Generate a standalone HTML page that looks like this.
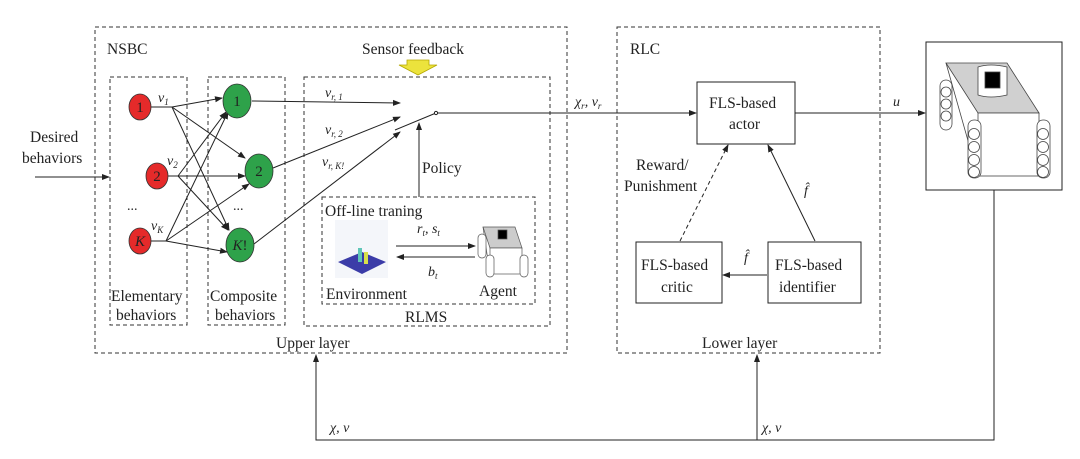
<!DOCTYPE html>
<html><head><style>
html,body{margin:0;padding:0;background:#fff;}
svg text{font-family:"Liberation Serif",serif;fill:#222;}
</style></head><body>
<svg width="1080" height="454" viewBox="0 0 1080 454" xmlns="http://www.w3.org/2000/svg">
<defs>
<marker id="a" markerWidth="8" markerHeight="8" refX="7" refY="4" orient="auto" markerUnits="userSpaceOnUse"><path d="M0,1 L8,4 L0,7 z" fill="#222"/></marker>
</defs>
<g fill="none" stroke="#333" stroke-width="1" stroke-dasharray="4,3">
<rect x="95" y="27" width="472" height="326"/>
<rect x="110" y="77" width="77" height="248"/>
<rect x="208" y="77" width="77" height="248"/>
<rect x="304" y="77" width="246" height="249"/>
<rect x="322" y="197" width="213" height="107"/>
<rect x="617" y="27" width="263" height="326"/>
</g>
<g stroke="#222" stroke-width="1" fill="#fff">
<rect x="697" y="82" width="98" height="62"/>
<rect x="636" y="242" width="86" height="61"/>
<rect x="768" y="242" width="93" height="61"/>
<rect x="926" y="42" width="136" height="148"/>
</g>
<g font-size="15.5">
<text x="107" y="54">NSBC</text>
<text x="362" y="54">Sensor feedback</text>
<text x="630" y="54">RLC</text>
<text x="30" y="142">Desired</text>
<text x="22" y="163">behaviors</text>
<text x="111" y="301">Elementary</text>
<text x="116" y="320">behaviors</text>
<text x="210" y="301">Composite</text>
<text x="215" y="320">behaviors</text>
<text x="405" y="322">RLMS</text>
<text x="276" y="348">Upper layer</text>
<text x="702" y="348">Lower layer</text>
<text x="422" y="173">Policy</text>
<text x="325" y="216">Off-line traning</text>
<text x="326" y="299">Environment</text>
<text x="479" y="296">Agent</text>
<text x="636" y="170">Reward/</text>
<text x="624" y="191">Punishment</text>
<text x="709" y="108">FLS-based</text>
<text x="729" y="129">actor</text>
<text x="641" y="270">FLS-based</text>
<text x="661" y="292">critic</text>
<text x="775" y="270">FLS-based</text>
<text x="779" y="292">identifier</text>
</g>
<g font-size="14" font-style="italic">
<text x="158" y="102">v<tspan font-size="9" dy="3">1</tspan></text>
<text x="167" y="165">v<tspan font-size="9" dy="3">2</tspan></text>
<text x="151" y="230">v<tspan font-size="9" dy="3">K</tspan></text>
<text x="325" y="97">v<tspan font-size="9" dy="3">r, 1</tspan></text>
<text x="325" y="134">v<tspan font-size="9" dy="3">r, 2</tspan></text>
<text x="322" y="166">v<tspan font-size="9" dy="3">r, K!</tspan></text>
<text x="417" y="233">r<tspan font-size="9" dy="3">t</tspan><tspan dy="-3">, s</tspan><tspan font-size="9" dy="3">t</tspan></text>
<text x="428" y="276">b<tspan font-size="9" dy="3">t</tspan></text>
<text x="575" y="106">χ<tspan font-size="9" dy="3">r</tspan><tspan dy="-3">, v</tspan><tspan font-size="9" dy="3">r</tspan></text>
<text x="893" y="106">u</text>
<text x="804" y="195">f̂</text>
<text x="744" y="262">f̂</text>
<text x="330" y="432">χ, v</text>
<text x="762" y="432">χ, v</text>
</g>
<text x="127" y="210" font-size="14">...</text>
<text x="233" y="210" font-size="14">...</text>
<!-- yellow block arrow -->
<path d="M407,60 L429,60 L429,65 L437,65 L418,75 L399,65 L407,65 z" fill="#ece33c" stroke="#b5a800" stroke-width="0.8"/>
<g stroke="#222" stroke-width="1" fill="none">
<line x1="35" y1="177" x2="109" y2="177" marker-end="url(#a)"/>
<line x1="151" y1="107" x2="172" y2="107"/>
<line x1="168" y1="176" x2="178" y2="176"/>
<line x1="151" y1="241" x2="166" y2="241"/>
<line x1="172" y1="107" x2="222" y2="98" marker-end="url(#a)"/>
<line x1="172" y1="107" x2="245" y2="158" marker-end="url(#a)"/>
<line x1="172" y1="107" x2="229" y2="230" marker-end="url(#a)"/>
<line x1="178" y1="176" x2="245" y2="176" marker-end="url(#a)"/>
<line x1="178" y1="176" x2="228" y2="230" marker-end="url(#a)"/>
<line x1="178" y1="176" x2="226" y2="112" marker-end="url(#a)"/>
<line x1="166" y1="241" x2="228" y2="112" marker-end="url(#a)"/>
<line x1="166" y1="241" x2="249" y2="184" marker-end="url(#a)"/>
<line x1="166" y1="241" x2="227" y2="252" marker-end="url(#a)"/>
<line x1="252" y1="101" x2="400" y2="103" marker-end="url(#a)"/>
<line x1="273" y1="168" x2="400" y2="117" marker-end="url(#a)"/>
<line x1="254" y1="244" x2="400" y2="132" marker-end="url(#a)"/>
<line x1="395" y1="130" x2="436" y2="113"/>
<line x1="437" y1="113" x2="696" y2="113" marker-end="url(#a)"/>
<line x1="419" y1="197" x2="419" y2="123" marker-end="url(#a)"/>
<line x1="396" y1="246" x2="475" y2="246" marker-end="url(#a)"/>
<line x1="475" y1="257" x2="397" y2="257" marker-end="url(#a)"/>
<line x1="680" y1="241" x2="728" y2="145" stroke-dasharray="4,3" marker-end="url(#a)"/>
<line x1="815" y1="241" x2="768" y2="145" marker-end="url(#a)"/>
<line x1="767" y1="275" x2="723" y2="275" marker-end="url(#a)"/>
<line x1="795" y1="113" x2="925" y2="113" marker-end="url(#a)"/>
<polyline points="994,190 994,440 316,440 316,355" marker-end="url(#a)"/>
<line x1="757" y1="440" x2="757" y2="355" marker-end="url(#a)"/>
</g>
<circle cx="436" cy="113" r="1.6" fill="#fff" stroke="#222"/>
<g stroke="#333" stroke-width="0.8">
<ellipse cx="140" cy="107" rx="11" ry="13" fill="#e52a2a"/>
<ellipse cx="157" cy="176" rx="11" ry="13" fill="#e52a2a"/>
<ellipse cx="140" cy="241" rx="11" ry="13" fill="#e52a2a"/>
<ellipse cx="237" cy="101" rx="14" ry="17" fill="#2ea24a"/>
<ellipse cx="259" cy="171" rx="14" ry="17" fill="#2ea24a"/>
<ellipse cx="240" cy="245" rx="14" ry="17" fill="#2ea24a"/>
</g>
<g font-size="15" text-anchor="middle">
<text x="140" y="112">1</text><text x="157" y="181">2</text><text x="140" y="246" font-style="italic">K</text>
<text x="237" y="106">1</text><text x="259" y="176">2</text><text x="240" y="250"><tspan font-style="italic">K</tspan>!</text>
</g>
<rect x="335" y="220" width="53" height="58" fill="#f4f6fa"/>
<polygon points="338,262 362,252 386,262 362,274" fill="#3b3ca8"/>
<rect x="358" y="248" width="4" height="14" fill="#5fc6b8"/>
<rect x="364" y="252" width="4" height="12" fill="#d8e04a"/>
<g stroke="#555" stroke-width="0.7">
<polygon points="483,227 515,227 522,248 490,248" fill="#ccc"/>
<rect x="490" y="248" width="32" height="26" fill="#fff"/>
<line x1="483" y1="227" x2="490" y2="274"/>
<rect x="498" y="230" width="9" height="9" fill="#000"/>
<rect x="478" y="234" width="8" height="24" rx="4" fill="#fff"/>
<rect x="486" y="255" width="8" height="22" rx="4" fill="#fff"/>
<rect x="520" y="255" width="8" height="22" rx="4" fill="#fff"/>
</g>
<g stroke="#444" stroke-width="0.8">
<polygon points="946,63 1007,63 1039,113 978,113" fill="#d0d0d0"/>
<rect x="978" y="113" width="61" height="63" fill="#fff"/>
<line x1="946" y1="63" x2="978" y2="176"/>
<path d="M978,67 L978,95 Q990,99 1007,95 L1007,67 Q990,63 978,67 z" fill="#fff"/>
<rect x="985" y="72" width="15" height="16" fill="#000"/>
<rect x="940" y="80" width="12" height="50" rx="6" fill="#fff"/>
<rect x="968" y="120" width="13" height="58" rx="6" fill="#fff"/>
<rect x="1037" y="120" width="13" height="58" rx="6" fill="#fff"/>
<circle cx="946" cy="92" r="5" fill="#fff"/><circle cx="946" cy="104" r="5" fill="#fff"/><circle cx="946" cy="116" r="5" fill="#fff"/>
<circle cx="974" cy="134" r="5.5" fill="#fff"/><circle cx="974" cy="147" r="5.5" fill="#fff"/><circle cx="974" cy="160" r="5.5" fill="#fff"/><circle cx="974" cy="172" r="5.5" fill="#fff"/>
<circle cx="1043" cy="134" r="5.5" fill="#fff"/><circle cx="1043" cy="147" r="5.5" fill="#fff"/><circle cx="1043" cy="160" r="5.5" fill="#fff"/><circle cx="1043" cy="172" r="5.5" fill="#fff"/>
</g>
</svg>
</body></html>
